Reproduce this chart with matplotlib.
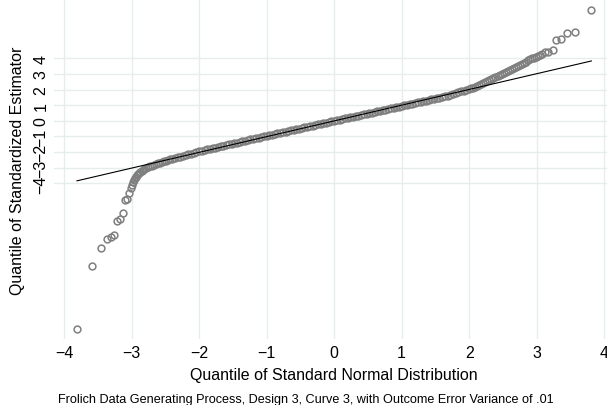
import numpy as np
import matplotlib
matplotlib.use("Agg")
import matplotlib.pyplot as plt

plt.rcParams['font.family'] = ['Liberation Sans', 'DejaVu Sans']

# theoretical normal quantiles (x) and sorted standardized estimates (y)
tail_left_x = [-3.81, -3.585, -3.46, -3.37, -3.31, -3.26, -3.21, -3.17, -3.135, -3.10, -3.075, -3.045, -3.015]
tail_left_y = [-13.35, -9.26, -8.13, -7.58, -7.43, -7.32, -6.42, -6.29, -5.87, -5.06, -5.01, -4.59, -4.33]

knee_left_x = [-2.995, -2.98, -2.965, -2.95, -2.935, -2.92, -2.905, -2.89, -2.87, -2.85,
               -2.83, -2.81, -2.79, -2.76, -2.73, -2.70, -2.67, -2.64, -2.61, -2.58,
               -2.55, -2.52, -2.49, -2.46, -2.43]
knee_left_y = [-4.10, -3.92, -3.78, -3.66, -3.57, -3.48, -3.40, -3.33, -3.25, -3.18,
               -3.12, -3.07, -3.03, -2.97, -2.91, -2.86, -2.81, -2.76, -2.72, -2.68,
               -2.64, -2.60, -2.55, -2.51, -2.47]

mid_x = [-2.40, -2.36, -2.32, -2.28, -2.24, -2.20, -2.16, -2.12, -2.08, -2.04,
         -2.00, -1.96, -1.92, -1.88, -1.84, -1.80, -1.76, -1.72, -1.68, -1.64,
         -1.60, -1.56, -1.52, -1.48, -1.44, -1.40, -1.36, -1.32, -1.28, -1.24,
         -1.20, -1.16, -1.12, -1.08, -1.04, -1.00, -0.96, -0.92, -0.88, -0.84,
         -0.80, -0.76, -0.72, -0.68, -0.64, -0.60, -0.56, -0.52, -0.48, -0.44,
         -0.40, -0.36, -0.32, -0.28, -0.24, -0.20, -0.16, -0.12, -0.08, -0.04,
         0.00, 0.04, 0.08, 0.12, 0.16, 0.20, 0.24, 0.28, 0.32, 0.36,
         0.40, 0.44, 0.48, 0.52, 0.56, 0.60, 0.64, 0.68, 0.72, 0.76,
         0.80, 0.84, 0.88, 0.92, 0.96, 1.00, 1.04, 1.08, 1.12, 1.16,
         1.20, 1.24, 1.28, 1.32, 1.36, 1.40, 1.44, 1.48, 1.52, 1.56,
         1.60, 1.64, 1.68, 1.72, 1.76, 1.80, 1.84, 1.88, 1.92, 1.96, 2.00]
mid_y = [-2.44, -2.39, -2.34, -2.30, -2.25, -2.20, -2.15, -2.10, -2.05, -2.00,
         -1.95, -1.91, -1.87, -1.83, -1.79, -1.75, -1.71, -1.67, -1.63, -1.59,
         -1.55, -1.51, -1.47, -1.43, -1.39, -1.35, -1.31, -1.27, -1.23, -1.19,
         -1.15, -1.11, -1.07, -1.03, -0.99, -0.96, -0.92, -0.88, -0.84, -0.81,
         -0.77, -0.73, -0.69, -0.65, -0.61, -0.58, -0.54, -0.50, -0.46, -0.42,
         -0.38, -0.35, -0.31, -0.27, -0.23, -0.19, -0.15, -0.12, -0.08, -0.04,
         0.00, 0.04, 0.08, 0.11, 0.15, 0.19, 0.23, 0.27, 0.30, 0.34,
         0.38, 0.42, 0.46, 0.49, 0.53, 0.57, 0.61, 0.65, 0.68, 0.72,
         0.76, 0.80, 0.84, 0.87, 0.91, 0.95, 0.99, 1.02, 1.06, 1.10,
         1.14, 1.18, 1.21, 1.25, 1.29, 1.33, 1.37, 1.40, 1.44, 1.48,
         1.52, 1.57, 1.62, 1.67, 1.72, 1.77, 1.82, 1.88, 1.94, 2.00, 2.04]

knee_right_x = [2.03, 2.06, 2.09, 2.12, 2.15, 2.18, 2.21, 2.24, 2.27, 2.30,
                2.33, 2.36, 2.39, 2.42, 2.45, 2.48, 2.51, 2.54, 2.57, 2.60,
                2.63, 2.66, 2.69, 2.72, 2.75, 2.78, 2.81, 2.84, 2.87, 2.90,
                2.93, 2.96, 2.99, 3.02, 3.05, 3.08]
knee_right_y = [2.08, 2.13, 2.18, 2.24, 2.30, 2.36, 2.42, 2.48, 2.54, 2.60,
                2.66, 2.72, 2.79, 2.86, 2.92, 2.98, 3.04, 3.10, 3.17, 3.23,
                3.29, 3.36, 3.42, 3.49, 3.55, 3.62, 3.70, 3.78, 3.86, 3.93,
                3.99, 4.04, 4.08, 4.13, 4.19, 4.26]

tail_right_x = [3.12, 3.17, 3.24, 3.29, 3.36, 3.45, 3.57, 3.80]
tail_right_y = [4.39, 4.43, 4.56, 5.20, 5.24, 5.63, 5.67, 7.06]

# reference line end points
line_x = [-3.81, 3.81]
line_y = [-3.84, 3.83]

x_ticks = [-4, -3, -2, -1, 0, 1, 2, 3, 4]
y_ticks = [-4, -3, -2, -1, 0, 1, 2, 3, 4]

theo = np.concatenate([tail_left_x, knee_left_x, mid_x, knee_right_x, tail_right_x])
samp = np.concatenate([tail_left_y, knee_left_y, mid_y, knee_right_y, tail_right_y])

W, H = 607, 406
fig = plt.figure(figsize=(W / 100, H / 100), dpi=100)
ax = fig.add_axes([54 / W, (H - 340) / H, 563 / W, 340 / H])

ax.plot(theo, samp, 'o', ms=4.9, mfc='none', mec='#7f7f7f', mew=1.1)
ax.plot(line_x, line_y, color='black', lw=0.8)

ax.set_xlim(-4.15, 4.19)
ax.set_ylim(-13.96, 7.795)
ax.set_xticks(x_ticks)
ax.set_yticks(y_ticks)
ax.set_xticklabels([str(v).replace('-', '\u2212') for v in x_ticks])
ax.set_yticklabels([str(v).replace('-', '\u2212') for v in y_ticks], rotation=90, va='center')

ax.grid(color='#e6eded', lw=1)
ax.set_axisbelow(True)
for s in ax.spines.values():
    s.set_visible(False)
ax.tick_params(length=0, labelsize=11.5)
ax.tick_params(axis='x', pad=4)
ax.tick_params(axis='y', pad=3.8)

fig.text(334 / W, 1 - 380 / H, "Quantile of Standard Normal Distribution",
         ha='center', va='baseline', fontsize=11.5)
fig.text(17.5 / W, 1 - 171 / H, "Quantile of Standardized Estimator",
         ha='center', va='center', rotation=90, fontsize=11.5)
fig.text(306 / W, 1 - 403 / H,
         "Frolich Data Generating Process, Design 3, Curve 3, with Outcome Error Variance of .01",
         ha='center', va='baseline', fontsize=9.1)

fig.savefig("out.png", dpi=100)
